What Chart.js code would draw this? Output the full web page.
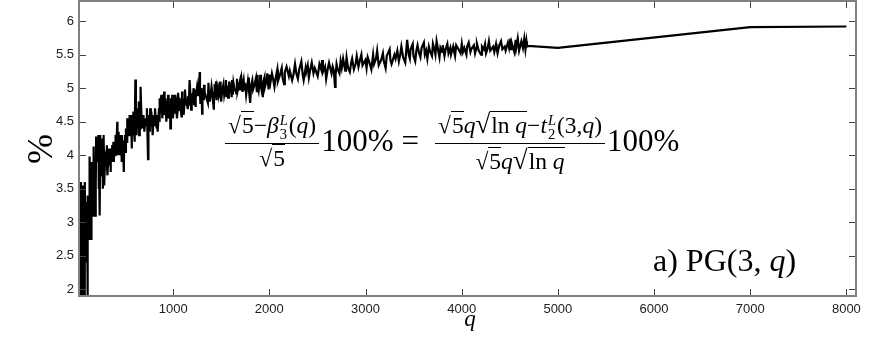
<!DOCTYPE html>
<html>
<head>
<meta charset="utf-8">
<script src="https://cdn.jsdelivr.net/npm/chart.js@4.4.1/dist/chart.umd.min.js"></script>
<style>
  body { margin: 0; background: #fff; }
  #wrap { position: relative; width: 872px; height: 342px; }
  .tex { position: absolute; font-family: "Liberation Serif", "DejaVu Serif", serif; color: #000; white-space: nowrap; }
  #formula { left: 223px; top: 110px; height: 62px; display: flex; align-items: center; font-size: 23.5px; }
  .frac { display: inline-flex; flex-direction: column; align-items: center; margin: 0 2px; position: relative; top: 1px; }
  .frac .num { border-bottom: 1.3px solid #000; padding: 0 3px 1px; line-height: 1.05; }
  .frac .den { padding-top: 2px; line-height: 1.05; }
  .rad { border-top: 1.2px solid #000; padding-left: 1px; }
  .ss { display: inline-flex; flex-direction: column; vertical-align: 0.55em; font-size: 0.62em; line-height: 0.95; margin: 0 1px; }
  .big { font-size: 31px; }
  .eq { margin: 0 14px 0 8px; }
  .bigrad { font-size: 1.15em; }
</style>
</head>
<body>
<div id="wrap">
  <canvas id="chart" width="872" height="342"></canvas>

  <div class="tex" id="formula"><span class="frac"><span class="num">√<span class="rad">5</span>−<i>β</i><span class="ss"><i>L</i><span>3</span></span>(<i>q</i>)</span><span class="den">√<span class="rad">5</span></span></span><span class="big">100%</span><span class="big eq">=</span><span class="frac"><span class="num">√<span class="rad">5</span><i>q</i><span class="bigrad">√</span><span class="rad">ln <i>q</i></span>−<i>t</i><span class="ss"><i>L</i><span>2</span></span>(3,<i>q</i>)</span><span class="den">√<span class="rad">5</span><i>q</i><span class="bigrad">√</span><span class="rad">ln <i>q</i></span></span></span><span class="big">100%</span></div>

  <div class="tex" style="left:653px; top:242px; font-size:32px;">a) PG(3, <i>q</i>)</div>
  <div class="tex" style="left:10px; top:129px; width:60px; height:40px; line-height:40px; text-align:center; font-size:36px; transform:rotate(-90deg);">%</div>
  <div class="tex" style="left:450px; top:307px; width:40px; text-align:center; font-size:23px; line-height:1;"><i>q</i></div>
</div>

<script>
// q < 200
const q1 = [23,29,31,37,41,43,47,53,59,61,67,71,73,79,83,89,97,101,103,107,109,113,127,131,137,139,149,151,157,163,167,173,179,181,191,193,197,199];
const p1 = [2.7,1.8,3.5,1.85,3.6,1.8,3.2,2.3,3.55,1.8,3.2,2.0,2.9,1.85,3.6,2.6,3.2,2.4,3.3,2.8,1.9,3.4,2.75,3.98,3.0,3.7,2.75,3.9,3.1,3.7,3.1,4.13,3.3,3.6,3.1,3.9,3.5,4.28];

// 200 - 500
const q2 = [211,223,227,229,233,239,241,251,257,263,269,271,277,281,283,293,307,311,313,317,331,337,347,349,353,359,367,373,379,383,389,397,401,409,419,421,431,433,439,443,449,457,461,463,467,479,487,491,499];
const p2 = [3.9,4.3,3.5,3.9,4.1,3.1,4.3,3.7,3.95,4.25,3.5,3.9,4.3,3.8,3.55,4.0,3.9,4.15,3.8,3.7,4.1,3.85,4.0,3.75,4.1,3.9,4.15,3.95,4.2,3.9,4.15,4.0,4.3,4.1,4.5,4.0,4.35,4.15,4.25,4.0,4.3,4.1,4.2,3.9,4.3,4.1,3.75,4.2,4.3];

// 500 - 1000
const q3 = [503,509,521,523,541,547,557,563,569,571,577,587,593,599,601,607,613,617,619,631,641,643,647,653,659,661,673,677,683,691,701,709,719,727,733,739,743,751,757,761,769,773,787,797,809,811,821,823,827,829,839,853,857,859,863,877,881,883,887,907,911,919,929,937,941,947,953,967,971,977,983,991,997];
const p3 = [4.05,4.4,4.2,4.55,4.3,4.6,4.4,4.6,4.1,4.5,4.3,4.65,4.35,4.5,4.2,5.13,4.4,4.6,4.3,4.7,4.45,4.8,4.3,4.55,4.4,5.02,4.45,4.6,4.4,4.6,4.35,4.55,4.45,4.7,4.3,3.94,4.5,4.6,4.35,4.7,4.5,4.65,4.3,4.6,4.45,4.7,4.5,4.6,4.4,4.55,4.35,4.7,4.5,4.85,4.6,4.9,4.65,4.8,4.55,4.95,4.6,4.85,4.5,4.8,4.65,4.9,4.55,4.75,4.4,4.85,4.6,4.9,4.55];

// 1000 - 2000
const q4 = [1009,1019,1021,1031,1039,1049,1051,1061,1063,1069,1087,1091,1093,1097,1103,1109,1117,1123,1129,1151,
  1153,1163,1171,1181,1187,1193,1201,1213,1217,1223,1229,1231,1237,1249,1259,1277,1279,1283,1289,1291,
  1297,1301,1303,1307,1319,1321,1327,1361,1367,1373,1381,1399,1409,1423,1427,1429,1433,1439,1447,1451,
  1453,1459,1471,1481,1483,1487,1489,1493,1499,1511,1523,1531,1543,1549,1553,1559,1567,1571,1579,1583,
  1597,1601,1607,1609,1613,1619,1621,1627,1637,1657,1663,1667,1669,1693,1697,1699,1709,1721,1723,1733,
  1741,1747,1753,1759,1777,1783,1787,1789,1801,1811,1823,1831,1847,1861,1867,1871,1873,1877,1879,1889,
  1901,1907,1913,1931,1933,1949,1951,1973,1979,1987,1993,1997,1999];
const p4 = [4.75,4.62,4.9,4.82,4.55,4.7,4.93,4.78,4.66,4.85,4.58,4.8,4.95,4.72,4.84,4.6,4.76,4.98,4.83,4.7,
  4.88,4.74,5.12,4.86,4.68,4.92,4.8,5.0,4.76,4.9,4.98,4.72,4.85,5.02,4.88,5.24,4.92,4.78,4.86,5.0,
  4.9,4.62,4.84,4.96,4.82,5.05,4.94,4.78,5.08,4.9,4.8,5.02,4.88,4.68,4.95,5.06,4.86,4.98,5.1,4.92,
  4.82,5.0,4.9,5.08,4.86,4.95,5.1,4.92,4.8,4.98,5.06,4.9,5.0,5.12,4.88,4.96,5.04,4.86,5.0,5.1,
  4.94,5.05,4.88,5.0,5.12,4.96,4.9,5.08,5.0,4.92,5.14,5.02,4.95,5.1,4.98,5.06,5.15,4.96,5.04,5.12,
  4.98,5.08,5.0,4.9,5.1,5.02,5.16,4.95,4.78,5.05,5.12,4.98,5.06,5.15,5.0,4.94,5.1,5.2,5.04,4.96,
  5.1,5.2,5.02,4.88,5.08,5.16,5.0,5.12,5.22,5.06,4.98,5.14,5.2];

// 2000 - 3000
const q5 = [2011,2027,2039,2053,2069,2083,2089,2111,2129,2137,2153,2161,2179,2203,2213,2237,2251,2267,2281,2297,
  2311,2333,2347,2357,2377,2383,2399,2411,2423,2441,2459,2473,2503,2521,2539,2549,2557,2579,2591,2609,
  2621,2647,2659,2671,2683,2689,2699,2711,2729,2741,2753,2767,2789,2797,2803,2819,2837,2851,2861,2879,
  2897,2909,2927,2939,2957,2969,2999];
const p5 = [5.08,5.22,5.14,5.02,5.18,5.28,5.1,5.2,5.3,5.16,5.06,5.24,5.32,5.18,5.26,5.12,5.2,5.36,5.22,5.14,
  5.28,5.4,5.2,5.12,5.3,5.24,5.34,5.16,5.26,5.38,5.22,5.3,5.18,5.36,5.28,5.42,5.24,5.32,5.14,5.3,
  5.38,5.22,5.32,5.26,5.02,5.2,5.36,5.28,5.22,5.4,5.3,5.44,5.26,5.36,5.46,5.3,5.24,5.38,5.44,5.28,
  5.36,5.48,5.32,5.4,5.5,5.34,5.42];

// 3000 - 4700
const q6 = [3011,3023,3041,3061,3079,3089,3109,3121,3137,3163,3181,3191,3209,3221,3251,3259,3271,3301,3313,3331,
  3347,3361,3373,3391,3413,3433,3449,3461,3469,3491,3499,3517,3529,3541,3557,3571,3583,3607,3617,3631,
  3643,3659,3673,3691,3701,3719,3727,3739,3761,3769,3779,3797,3803,3821,3833,3851,3863,3881,3889,3911,
  3919,3931,3943,3967,3989,4001,4013,4027,4049,4057,4073,4091,4099,4127,4139,4153,4159,4177,4201,4211,
  4229,4243,4253,4271,4283,4297,4327,4339,4357,4363,4373,4391,4409,4423,4447,4457,4481,4493,4507,4513,
  4523,4547,4561,4567,4583,4597,4621,4637,4651,4663,4673,4679,4691];
const p6 = [5.3,5.46,5.38,5.28,5.5,5.36,5.44,5.56,5.34,5.42,5.52,5.4,5.3,5.48,5.58,5.42,5.36,5.5,5.44,5.56,
  5.4,5.5,5.62,5.46,5.38,5.72,5.5,5.44,5.58,5.66,5.48,5.4,5.56,5.64,5.52,5.46,5.6,5.68,5.5,5.56,
  5.44,5.62,5.54,5.48,5.66,5.56,5.5,5.7,5.52,5.46,5.6,5.54,5.64,5.48,5.58,5.66,5.52,5.6,5.5,5.62,
  5.56,5.48,5.64,5.58,5.52,5.66,5.54,5.6,5.5,5.62,5.68,5.54,5.58,5.64,5.52,5.6,5.66,5.56,5.5,5.62,
  5.58,5.66,5.52,5.6,5.7,5.56,5.62,5.54,5.66,5.6,5.52,5.64,5.7,5.58,5.62,5.56,5.68,5.6,5.74,5.58,
  5.66,5.54,5.72,5.6,5.74,5.56,5.7,5.6,5.74,5.58,5.7,5.62,5.63];

// sparse large q
const qTail = [5000, 7000, 8000];
const pTail = [5.60, 5.91, 5.92];

const xTicks = [1000, 2000, 3000, 4000, 5000, 6000, 7000, 8000];
const yTicks = [2, 2.5, 3, 3.5, 4, 4.5, 5, 5.5, 6];

const qAll = [].concat(q1, q2, q3, q4, q5, q6, qTail);
const pAll = [].concat(p1, p2, p3, p4, p5, p6, pTail);
const points = qAll.map((q, i) => ({ x: q, y: pAll[i] }));

// box round the plot with inward tick marks (matlab style)
const frame = {
  id: "frame",
  afterDatasetsDraw(chart) {
    const { ctx, chartArea: a, scales } = chart;
    ctx.save();
    ctx.strokeStyle = "#444";
    ctx.lineWidth = 1;
    ctx.beginPath();
    xTicks.forEach((v) => {
      const px = Math.round(scales.x.getPixelForValue(v)) + 0.5;
      ctx.moveTo(px, a.bottom); ctx.lineTo(px, a.bottom - 7);
      ctx.moveTo(px, a.top); ctx.lineTo(px, a.top + 7);
    });
    yTicks.forEach((v) => {
      const py = Math.round(scales.y.getPixelForValue(v)) + 0.5;
      ctx.moveTo(a.left, py); ctx.lineTo(a.left + 7, py);
      ctx.moveTo(a.right, py); ctx.lineTo(a.right - 7, py);
    });
    ctx.stroke();
    ctx.strokeStyle = "#808080";
    ctx.lineWidth = 2;
    ctx.strokeRect(a.left, a.top, a.right - a.left, a.bottom - a.top);
    ctx.restore();
  },
};

const tickFont = { family: "'Liberation Sans', Arial, sans-serif", size: 13 };

new Chart(document.getElementById("chart").getContext("2d"), {
  type: "line",
  data: {
    datasets: [
      {
        data: points,
        borderColor: "#000",
        borderWidth: 2.2,
        pointRadius: 0,
        tension: 0,
        fill: false,
      },
    ],
  },
  options: {
    responsive: false,
    animation: false,
    devicePixelRatio: 1,
    layout: { padding: { top: 1, right: 16, left: 0, bottom: 0 } },
    plugins: { legend: { display: false }, tooltip: { enabled: false } },
    scales: {
      x: {
        type: "linear",
        min: 21,
        max: 8100,
        grid: { display: false, drawTicks: false },
        border: { display: false },
        afterFit: (s) => { s.height = 46; s.paddingLeft = 0; s.paddingRight = 0; },
        afterBuildTicks: (s) => { s.ticks = xTicks.map((v) => ({ value: v })); },
        ticks: {
          color: "#222",
          font: tickFont,
          padding: 6,
          maxRotation: 0,
          callback: (v) => String(v),
        },
      },
      y: {
        type: "linear",
        min: 1.9,
        max: 6.3,
        grid: { display: false, drawTicks: false },
        border: { display: false },
        afterFit: (s) => { s.width = 79; s.paddingTop = 0; s.paddingBottom = 0; },
        afterBuildTicks: (s) => { s.ticks = yTicks.map((v) => ({ value: v })); },
        ticks: {
          color: "#222",
          font: tickFont,
          padding: 5,
          callback: (v) => String(v),
        },
      },
    },
  },
  plugins: [frame],
});
</script>
</body>
</html>
